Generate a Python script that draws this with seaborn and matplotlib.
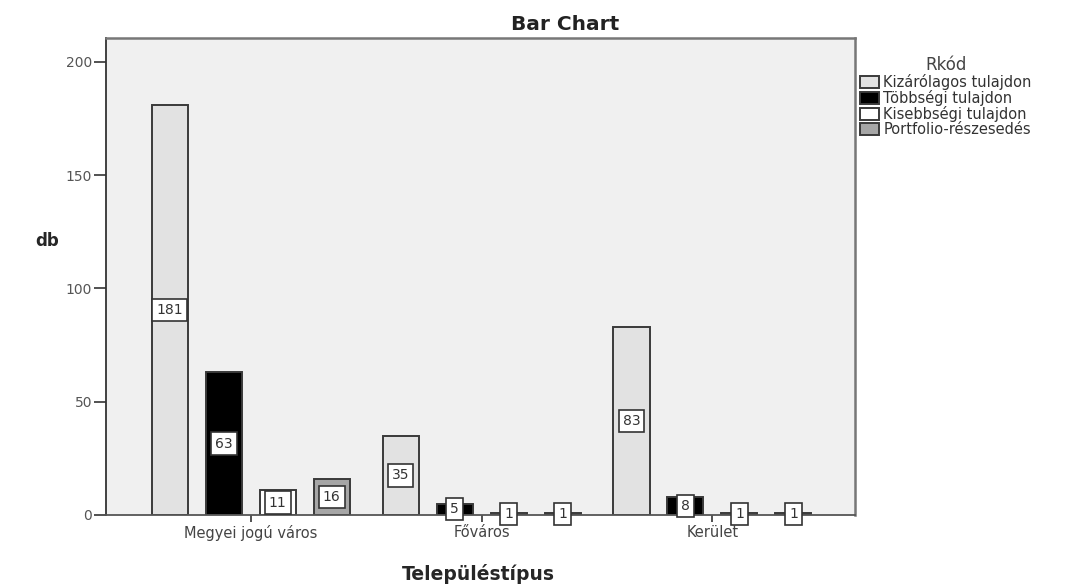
import matplotlib
matplotlib.use("Agg")
import matplotlib.pyplot as plt
import seaborn as sns
import pandas as pd

categories = ["Megyei jogú város", "Főváros", "Kerület"]
series = ["Kizárólagos tulajdon", "Többségi tulajdon", "Kisebbségi tulajdon", "Portfolio-részesedés"]
kizarolagos = [181, 35, 83]
tobbsegi = [63, 5, 8]
kisebbsegi = [11, 1, 1]
portfolio = [16, 1, 1]
yticks = [0, 50, 100, 150, 200]

values = [kizarolagos, tobbsegi, kisebbsegi, portfolio]
rows = []
for s, vals in zip(series, values):
    for c, v in zip(categories, vals):
        rows.append({"Településtípus": c, "Rkód": s, "db": v})
df = pd.DataFrame(rows)

sns.set_style("white")
plt.rcParams["font.family"] = ["DejaVu Sans"]

fig = plt.figure(figsize=(10.73, 5.87), dpi=100)
ax = fig.add_axes([0.0988, 0.1227, 0.6980, 0.8126])
ax.set_facecolor("#f0f0f0")

palette = {series[0]: "#e2e2e2", series[1]: "#000000", series[2]: "#ffffff", series[3]: "#a6a6a6"}
sns.barplot(data=df, x="Településtípus", y="db", hue="Rkód", hue_order=series,
            order=categories, palette=palette, width=0.935, gap=0.333,
            edgecolor="#3a3a3a", linewidth=1.4, ax=ax, legend=True)

for cont in ax.containers:
    ax.bar_label(cont, label_type="center", fontsize=10, color="#333333",
                 bbox=dict(boxstyle="square,pad=0.3", fc="white", ec="#333333", lw=1.2))

ax.set_xlim(-0.626, 2.617)
ax.set_ylim(0, 210.6)
ax.set_yticks(yticks)
ax.tick_params(axis="y", left=True, length=9, width=1.2, color="#333333",
               labelsize=10, labelcolor="#555555", pad=1)
ax.tick_params(axis="x", bottom=True, length=5, width=1.2, color="#333333",
               labelsize=10.5, labelcolor="#444444", pad=2)
for sp in ["top", "right"]:
    ax.spines[sp].set_color("#777777")
    ax.spines[sp].set_linewidth(1.8)
ax.spines["left"].set_color("#333333")
ax.spines["left"].set_linewidth(1.3)
ax.spines["bottom"].set_color("#555555")
ax.spines["bottom"].set_linewidth(1.3)

ax.set_xlabel("")
ax.set_ylabel("")
fig.text(0.044, 0.59, "db", fontsize=12, fontweight="bold", ha="center", va="center")
fig.text(0.446, 0.022, "Településtípus", fontsize=13.5, fontweight="bold", ha="center", va="center")
fig.text(0.527, 0.958, "Bar Chart", fontsize=14.5, fontweight="bold", ha="center", va="center", color="#222222")

leg = ax.legend(title="Rkód", loc="upper left", bbox_to_anchor=(0.999, 0.975),
                frameon=False, fontsize=10.5, title_fontsize=12,
                handlelength=1.3, handleheight=0.85, handletextpad=0.3,
                labelspacing=0.0, borderaxespad=0.2, borderpad=0.2)
for t in leg.get_texts():
    t.set_color("#333333")
leg.get_title().set_color("#444444")

fig.savefig("out.png", dpi=100, facecolor="white")
